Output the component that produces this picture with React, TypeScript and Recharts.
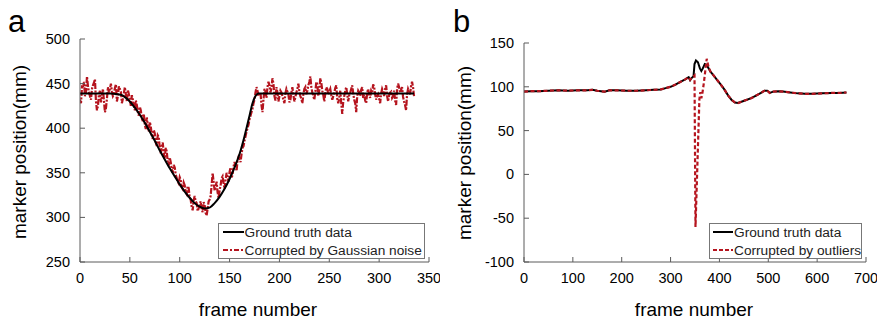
import React from 'react';
import { LineChart, Line, XAxis, YAxis, Legend, Label } from 'recharts';

const FONT = "'Liberation Sans', Arial, Helvetica, sans-serif";
const RED = '#b5141e';
const AXIS = '#5a5a5a';

// ---------- Panel a ----------
const aXTicks = [0, 50, 100, 150, 200, 250, 300, 350];
const aYTicks = [250, 300, 350, 400, 450, 500];
const aLegendNames = ['Ground truth data', 'Corrupted by Gaussian noise'];

// ground truth (frame -> mm)
const aTruthFrames = [0, 30, 38, 42, 46, 50, 55, 60, 65, 70, 75, 80, 85, 90, 95, 100, 105, 110, 115, 120, 125, 130, 135, 140, 145, 150, 155, 160, 165, 170, 173, 176, 179, 185, 335];
const aTruthValues = [439, 439, 438, 437, 434, 430, 423, 415, 406, 396, 386, 375, 365, 355, 346, 337, 329, 322, 316, 312, 310, 311, 316, 323, 332, 343, 356, 371, 391, 414, 428, 436, 439, 439, 439];

// noisy measurement, one value per frame starting at frame 0
const aNoisyStep = 1;
const aNoisyValues = [
  432, 428, 446, 445, 452, 436, 440, 458, 447, 440, 436, 432, 444, 448, 451, 455, 430, 420, 425, 438,
  442, 429, 436, 444, 431, 418, 422, 433, 446, 440, 444, 450, 441, 436, 438, 445, 449, 430, 436, 447,
  444, 441, 428, 433, 439, 446, 438, 430, 443, 438, 432, 425, 437, 432, 426, 420, 431, 426, 418, 414,
  424, 420, 411, 408, 416, 404, 399, 412, 403, 396, 407, 402, 392, 388, 398, 394, 384, 380, 392, 390,
  378, 372, 380, 384, 371, 366, 378, 374, 362, 358, 367, 362, 354, 350, 359, 356, 348, 344, 340, 338,
  345, 342, 334, 332, 339, 336, 328, 326, 335, 333, 322, 320, 312, 308, 319, 324, 318, 316, 307, 310,
  314, 318, 309, 306, 317, 314, 305, 302, 310, 318, 320, 324, 336, 350, 340, 330, 334, 340, 328, 322,
  330, 336, 344, 346, 338, 332, 342, 350, 345, 340, 351, 356, 344, 348, 357, 362, 358, 352, 364, 368,
  366, 362, 371, 378, 380, 386, 391, 396, 400, 404, 410, 414, 418, 422, 428, 432, 440, 446, 442, 436,
  438, 440, 426, 418, 432, 444, 441, 434, 446, 452, 448, 440, 445, 456, 450, 436, 431, 446, 440, 430,
  436, 442, 440, 436, 432, 428, 439, 444, 441, 438, 429, 432, 440, 446, 437, 430, 435, 440, 444, 450,
  441, 436, 433, 428, 438, 444, 446, 438, 442, 448, 452, 458, 446, 440, 436, 432, 441, 452, 449, 436,
  443, 456, 451, 442, 437, 430, 439, 446, 444, 438, 441, 444, 437, 432, 436, 440, 445, 448, 433, 428,
  434, 442, 428, 416, 430, 436, 442, 446, 438, 430, 437, 440, 444, 448, 439, 432, 428, 418, 436, 442,
  440, 436, 443, 446, 434, 438, 431, 428, 440, 444, 437, 434, 442, 440, 449, 446, 438, 432, 436, 438,
  433, 428, 439, 444, 441, 436, 444, 448, 436, 430, 437, 440, 441, 434, 436, 442, 431, 426, 444, 450,
  446, 440, 443, 446, 435, 430, 426, 420, 438, 444, 441, 438, 447, 452, 446, 436,
];

// ---------- Panel b ----------
const bXTicks = [0, 100, 200, 300, 400, 500, 600, 700];
const bYTicks = [-100, -50, 0, 50, 100, 150];
const bLegendNames = ['Ground truth data', 'Corrupted by outliers'];

const bTruthFrames = [
  0, 15, 30, 50, 70, 90, 110, 130, 140, 150,
  165, 175, 190, 210, 230, 250, 265, 280, 290, 300,
  310, 320, 330, 337, 340, 343, 347, 349, 352, 356,
  360, 363, 366, 370, 374, 378, 382, 388, 395, 402,
  410, 418, 425, 432, 438, 445, 455, 465, 475, 485,
  492, 498, 503, 510, 520, 530, 545, 560, 575, 590,
  610, 630, 645, 660,
];
const bTruthValues = [
  94.5, 95, 95, 95.5, 96, 95.5, 96, 96, 96.5, 95.5,
  94.5, 96, 96, 95.5, 95.5, 96, 96.5, 97, 98.5, 100,
  102.5, 105.5, 108.5, 111, 107.5, 110, 112, 126, 130, 128,
  121, 118, 121, 126, 125, 121, 117, 113, 108, 103,
  97, 90, 85, 82, 81.5, 83, 85, 87, 90, 93,
  95.5, 95.5, 93, 94.5, 95, 94.5, 93.5, 92.5, 92, 92,
  92.5, 93, 93, 93.5,
];

const bOutlierFrames = [
  0, 15, 30, 50, 70, 90, 110, 130, 140, 150,
  165, 175, 190, 210, 230, 250, 265, 280, 290, 300,
  310, 320, 330, 337, 340, 343, 347, 349, 351, 359,
  361, 363, 365, 368, 374, 378, 382, 388, 395, 402,
  410, 418, 425, 432, 438, 445, 455, 465, 475, 485,
  492, 498, 503, 510, 520, 530, 545, 560, 575, 590,
  610, 630, 645, 660,
];
const bOutlierValues = [
  94.5, 95, 95, 95.5, 96, 95.5, 96, 96, 96.5, 95.5,
  94.5, 96, 96, 95.5, 95.5, 96, 96.5, 97, 98.5, 100,
  102.5, 105.5, 108.5, 111, 108, 110, 112, 113, -60, 86,
  94, 87, 92, 104, 132, 122, 117, 113, 108, 103,
  97, 90, 85, 82, 81.5, 83, 85, 87, 90, 93,
  95.5, 95.5, 93, 94.5, 95, 94.5, 93.5, 92.5, 92, 92,
  92.5, 93, 93, 93.5,
];

// ---------- data tables ----------
const toPoints = (xs: number[], ys: number[]) => xs.map((x, i) => ({ x, y: ys[i] }));
const aTruthData = toPoints(aTruthFrames, aTruthValues);
const aNoisyData = aNoisyValues.map((y, i) => ({ x: i * aNoisyStep, y }));
const bTruthData = toPoints(bTruthFrames, bTruthValues);
const bOutlierData = toPoints(bOutlierFrames, bOutlierValues);

// ---------- helpers ----------
const TICK_FS = 14.5;
const TITLE_FS = 19;
const TL = 5;

const makeTick = (side: 'bottom' | 'left' | 'top' | 'right', showLabel: boolean) => (p: any) => {
  const { x, y, payload } = p;
  let line: React.ReactNode = null;
  let text: React.ReactNode = null;
  if (side === 'bottom') {
    line = <line x1={x} y1={y} x2={x} y2={y - TL} stroke={AXIS} strokeWidth={1} />;
    if (showLabel)
      text = (
        <text x={x} y={y + 21} textAnchor="middle" fontSize={TICK_FS} fontFamily={FONT} fill="#000">
          {payload.value}
        </text>
      );
  } else if (side === 'left') {
    line = <line x1={x} y1={y} x2={x + TL} y2={y} stroke={AXIS} strokeWidth={1} />;
    if (showLabel)
      text = (
        <text x={x - 10} y={y + 5} textAnchor="end" fontSize={TICK_FS} fontFamily={FONT} fill="#000">
          {payload.value}
        </text>
      );
  } else if (side === 'top') {
    line = <line x1={x} y1={y} x2={x} y2={y + TL} stroke={AXIS} strokeWidth={1} />;
  } else {
    line = <line x1={x} y1={y} x2={x - TL} y2={y} stroke={AXIS} strokeWidth={1} />;
  }
  return (
    <g>
      {line}
      {text}
    </g>
  );
};

const LegendBox = ({
  width,
  names,
  dash,
  sampleX0,
  sampleX1,
  textX,
}: {
  width: number;
  names: string[];
  dash: string;
  sampleX0: number;
  sampleX1: number;
  textX: number;
}) => (
  <svg width={width} height={36} style={{ display: 'block' }}>
    <rect x={0.5} y={0.5} width={width - 1} height={35} fill="#fff" stroke="#777" strokeWidth={1} />
    <line x1={sampleX0} y1={9} x2={sampleX1} y2={9} stroke="#000" strokeWidth={2} />
    <text x={textX} y={14} fontSize={13.7} fontFamily={FONT} fill="#222">
      {names[0]}
    </text>
    <line x1={sampleX0} y1={27} x2={sampleX1} y2={27} stroke={RED} strokeWidth={2} strokeDasharray={dash} />
    <text x={textX} y={31.5} fontSize={13.7} fontFamily={FONT} fill="#222">
      {names[1]}
    </text>
  </svg>
);

const xTitle = (cx: number) => () => (
  <text x={cx} y={316} textAnchor="middle" fontSize={TITLE_FS} fontFamily={FONT} fill="#000">
    frame number
  </text>
);
const yTitle = (bx: number, cy: number) => () => (
  <text
    transform={`translate(${bx},${cy}) rotate(-90)`}
    textAnchor="middle"
    fontSize={TITLE_FS}
    fontFamily={FONT}
    fill="#000"
  >
    marker position(mm)
  </text>
);

const PanelLetter = ({ left, letter }: { left: number; letter: string }) => (
  <div
    style={{
      position: 'absolute',
      left,
      top: 6,
      fontSize: 31,
      lineHeight: '31px',
      fontFamily: FONT,
      color: '#000',
    }}
  >
    {letter}
  </div>
);

export default function App() {
  return (
    <div
      style={{
        position: 'absolute',
        left: 0,
        top: 0,
        width: 877,
        height: 320,
        background: '#fff',
        overflow: 'hidden',
      }}
    >
      <PanelLetter left={8} letter="a" />
      <PanelLetter left={453} letter="b" />

      {/* Panel a */}
      <div style={{ position: 'absolute', left: 0, top: 0, width: 440, height: 320 }}>
        <LineChart width={440} height={320} margin={{ top: 39, right: 11, bottom: 0, left: 0 }}>
          <XAxis
            dataKey="x"
            type="number"
            domain={[0, 350]}
            ticks={aXTicks}
            interval={0}
            height={58}
            tickSize={0}
            tickMargin={0}
            tickLine={false}
            axisLine={{ stroke: AXIS }}
            tick={makeTick('bottom', true)}
            allowDataOverflow
          >
            <Label content={xTitle(258)} />
          </XAxis>
          <XAxis
            xAxisId="top"
            orientation="top"
            dataKey="x"
            type="number"
            domain={[0, 350]}
            ticks={aXTicks}
            interval={0}
            height={0}
            tickSize={0}
            tickMargin={0}
            tickLine={false}
            axisLine={{ stroke: AXIS }}
            tick={makeTick('top', false)}
            allowDataOverflow
          />
          <YAxis
            type="number"
            domain={[250, 500]}
            ticks={aYTicks}
            interval={0}
            width={80}
            tickSize={0}
            tickMargin={0}
            tickLine={false}
            axisLine={{ stroke: AXIS }}
            tick={makeTick('left', true)}
            allowDataOverflow
          >
            <Label content={yTitle(26, 152)} />
          </YAxis>
          <YAxis
            yAxisId="right"
            orientation="right"
            type="number"
            domain={[250, 500]}
            ticks={aYTicks}
            interval={0}
            width={0}
            tickSize={0}
            tickMargin={0}
            tickLine={false}
            axisLine={{ stroke: AXIS }}
            tick={makeTick('right', false)}
            allowDataOverflow
          />
          <Line
            data={aNoisyData}
            dataKey="y"
            type="linear"
            stroke={RED}
            strokeWidth={2.2}
            strokeDasharray="6 1.5 2 1.5"
            dot={false}
            activeDot={false}
            isAnimationActive={false}
          />
          <Line
            data={aTruthData}
            dataKey="y"
            type="monotone"
            stroke="#000"
            strokeWidth={2}
            dot={false}
            activeDot={false}
            isAnimationActive={false}
          />
          <Legend
            layout="vertical"
            align="center"
            verticalAlign="middle"
            wrapperStyle={{ left: 218, top: 223, width: 207, height: 36 }}
            content={() => (
              <LegendBox width={207} names={aLegendNames} dash="5 2 2 2" sampleX0={5} sampleX1={26} textX={26.5} />
            )}
          />
        </LineChart>
      </div>

      {/* Panel b */}
      <div style={{ position: 'absolute', left: 440, top: 0, width: 437, height: 320 }}>
        <LineChart width={437} height={320} margin={{ top: 43, right: 11, bottom: 0, left: 0 }}>
          <XAxis
            dataKey="x"
            type="number"
            domain={[0, 700]}
            ticks={bXTicks}
            interval={0}
            height={58}
            tickSize={0}
            tickMargin={0}
            tickLine={false}
            axisLine={{ stroke: AXIS }}
            tick={makeTick('bottom', true)}
            allowDataOverflow
          >
            <Label content={xTitle(254)} />
          </XAxis>
          <XAxis
            xAxisId="top"
            orientation="top"
            dataKey="x"
            type="number"
            domain={[0, 700]}
            ticks={bXTicks}
            interval={0}
            height={0}
            tickSize={0}
            tickMargin={0}
            tickLine={false}
            axisLine={{ stroke: AXIS }}
            tick={makeTick('top', false)}
            allowDataOverflow
          />
          <YAxis
            type="number"
            domain={[-100, 150]}
            ticks={bYTicks}
            interval={0}
            width={84}
            tickSize={0}
            tickMargin={0}
            tickLine={false}
            axisLine={{ stroke: AXIS }}
            tick={makeTick('left', true)}
            allowDataOverflow
          >
            <Label content={yTitle(31, 153)} />
          </YAxis>
          <YAxis
            yAxisId="right"
            orientation="right"
            type="number"
            domain={[-100, 150]}
            ticks={bYTicks}
            interval={0}
            width={0}
            tickSize={0}
            tickMargin={0}
            tickLine={false}
            axisLine={{ stroke: AXIS }}
            tick={makeTick('right', false)}
            allowDataOverflow
          />
          <Line
            data={bTruthData}
            dataKey="y"
            type="linear"
            stroke="#000"
            strokeWidth={2}
            dot={false}
            activeDot={false}
            isAnimationActive={false}
          />
          <Line
            data={bOutlierData}
            dataKey="y"
            type="linear"
            stroke={RED}
            strokeWidth={2.2}
            strokeDasharray="4 2.5"
            dot={false}
            activeDot={false}
            isAnimationActive={false}
          />
          <Legend
            layout="vertical"
            align="center"
            verticalAlign="middle"
            wrapperStyle={{ left: 269, top: 223, width: 153, height: 36 }}
            content={() => (
              <LegendBox width={153} names={bLegendNames} dash="4 2" sampleX0={4} sampleX1={24} textX={25} />
            )}
          />
        </LineChart>
      </div>
    </div>
  );
}
